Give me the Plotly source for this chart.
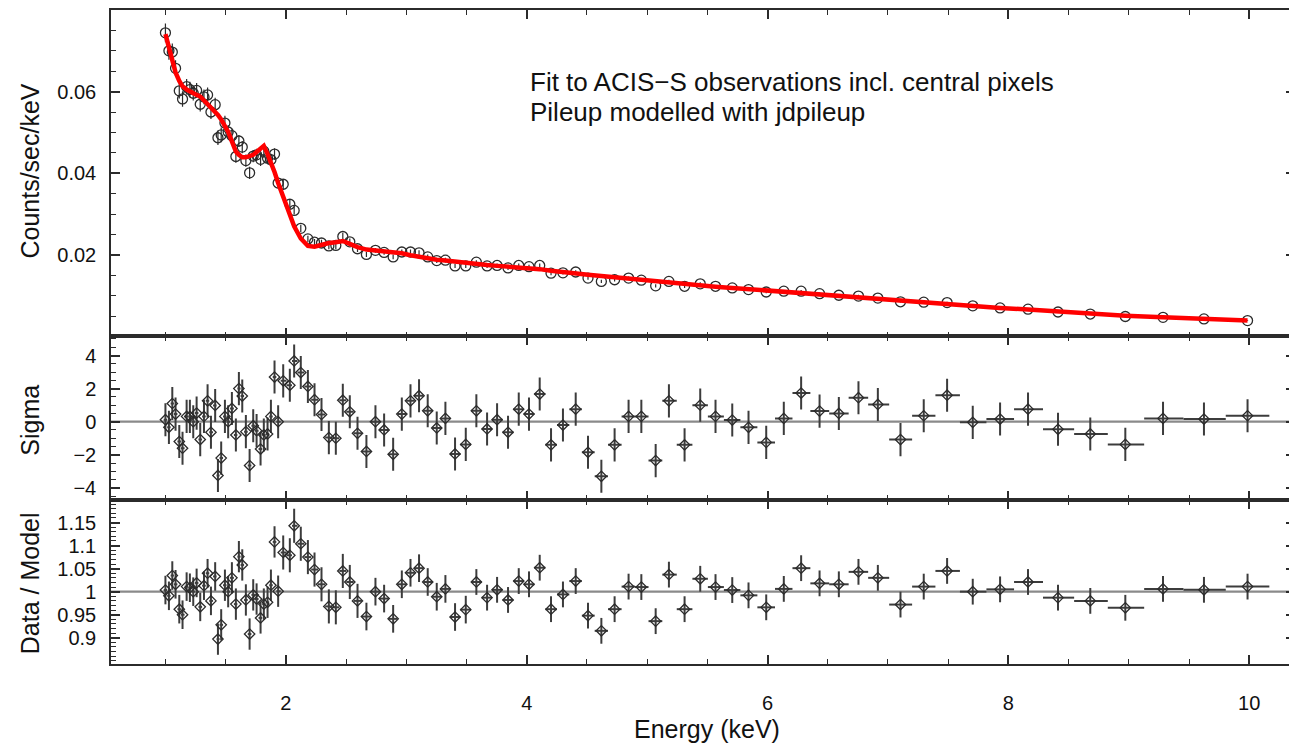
import plotly.graph_objects as go
from plotly.subplots import make_subplots

# ---------------- data ----------------
energy = [1.000, 1.029, 1.057, 1.084, 1.115, 1.142, 1.176, 1.203, 1.231, 1.259,
          1.289, 1.320, 1.350, 1.378, 1.413, 1.436, 1.463, 1.494, 1.521, 1.552,
          1.585, 1.610, 1.638, 1.668, 1.699, 1.729, 1.757, 1.790, 1.817, 1.848,
          1.876, 1.906, 1.936, 1.978, 2.033, 2.069, 2.124, 2.183, 2.238, 2.296,
          2.357, 2.415, 2.473, 2.531, 2.595, 2.669, 2.744, 2.816, 2.891, 2.963,
          3.035, 3.106, 3.178, 3.253, 3.325, 3.405, 3.494, 3.582, 3.671, 3.754,
          3.845, 3.934, 4.019, 4.108, 4.202, 4.301, 4.407, 4.509, 4.620, 4.730,
          4.846, 4.952, 5.071, 5.181, 5.311, 5.441, 5.568, 5.707, 5.842, 5.989,
          6.135, 6.279, 6.432, 6.592, 6.755, 6.916, 7.104, 7.297, 7.491, 7.704,
          7.931, 8.163, 8.412, 8.680, 8.971, 9.284, 9.624, 9.986]

counts = [0.0744, 0.0700, 0.0697, 0.0657, 0.0602, 0.0582, 0.0612, 0.0605, 0.0596, 0.0603,
          0.0569, 0.0587, 0.0592, 0.0550, 0.0568, 0.0487, 0.0494, 0.0523, 0.0501, 0.0492,
          0.0441, 0.0479, 0.0464, 0.0431, 0.0401, 0.0442, 0.0445, 0.0434, 0.0454, 0.0437,
          0.0433, 0.0447, 0.0376, 0.0373, 0.0324, 0.0309, 0.0265, 0.0239, 0.0231, 0.0229,
          0.0222, 0.0223, 0.0245, 0.0232, 0.0215, 0.0201, 0.0211, 0.0206, 0.0195, 0.0207,
          0.0207, 0.0205, 0.0195, 0.0186, 0.0187, 0.0173, 0.0173, 0.0182, 0.0173, 0.0174,
          0.0168, 0.0174, 0.0171, 0.0174, 0.0155, 0.0156, 0.0158, 0.0143, 0.0135, 0.0139,
          0.0143, 0.0138, 0.0124, 0.0135, 0.0123, 0.0129, 0.0123, 0.0119, 0.0115, 0.0109,
          0.0111, 0.0111, 0.0105, 0.0101, 0.0099, 0.0094, 0.0085, 0.0084, 0.0083, 0.0075,
          0.0070, 0.0067, 0.0060, 0.0055, 0.0049, 0.0047, 0.0043, 0.0039]

counts_err = [0.0023, 0.0022, 0.0021, 0.0020, 0.0019, 0.0019, 0.0019, 0.0019, 0.0018, 0.0018,
              0.0018, 0.0018, 0.0018, 0.0017, 0.0017, 0.0018, 0.0018, 0.0018, 0.0017, 0.0016,
              0.0015, 0.0015, 0.0015, 0.0015, 0.0015, 0.0015, 0.0015, 0.0016, 0.0016, 0.0015,
              0.0015, 0.0014, 0.0013, 0.0013, 0.0011, 0.0010, 0.0009, 0.0008, 0.0008, 0.0008,
              0.0008, 0.0009, 0.0009, 0.0008, 0.0008, 0.0006, 0.0006, 0.0006, 0.0006, 0.0006,
              0.0006, 0.0006, 0.0006, 0.0006, 0.0006, 0.0005, 0.0005, 0.0005, 0.0005, 0.0005,
              0.0005, 0.0005, 0.0005, 0.0005, 0.0005, 0.0004, 0.0004, 0.0004, 0.0004, 0.0004,
              0.0004, 0.0004, 0.0004, 0.0004, 0.0004, 0.0004, 0.0003, 0.0003, 0.0003, 0.0003,
              0.0003, 0.0003, 0.0003, 0.0003, 0.0003, 0.0003, 0.0002, 0.0002, 0.0002, 0.0002,
              0.0002, 0.0002, 0.0002, 0.0002, 0.0001, 0.0001, 0.0001, 0.0001]

model = [0.0741, 0.0706, 0.0673, 0.0647, 0.0626, 0.0613, 0.0605, 0.0600, 0.0596, 0.0592,
         0.0588, 0.0579, 0.0569, 0.0561, 0.0550, 0.0543, 0.0532, 0.0516, 0.0501, 0.0478,
         0.0453, 0.0445, 0.0439, 0.0439, 0.0442, 0.0445, 0.0452, 0.0460, 0.0467, 0.0447,
         0.0427, 0.0403, 0.0376, 0.0344, 0.0300, 0.0270, 0.0240, 0.0222, 0.0220, 0.0225,
         0.0229, 0.0231, 0.0234, 0.0227, 0.0219, 0.0213, 0.0211, 0.0209, 0.0207, 0.0204,
         0.0199, 0.0195, 0.0191, 0.0188, 0.0186, 0.0183, 0.0180, 0.0178, 0.0175, 0.0173,
         0.0171, 0.0170, 0.0168, 0.0165, 0.0161, 0.0157, 0.0154, 0.0151, 0.0148, 0.0145,
         0.0141, 0.0137, 0.0133, 0.0130, 0.0128, 0.0125, 0.0122, 0.0119, 0.0116, 0.0113,
         0.0110, 0.0106, 0.0103, 0.0099, 0.0095, 0.0091, 0.0087, 0.0083, 0.0079, 0.0075,
         0.0070, 0.0066, 0.0061, 0.0056, 0.0051, 0.0047, 0.0043, 0.0039]

sigma = [0.12, -0.34, 1.10, 0.46, -1.20, -1.60, 0.32, 0.32, 0.00, 0.52,
         -1.08, 0.32, 1.26, -0.64, 0.98, -3.25, -2.20, 0.32, 0.00, 0.80,
         -0.80, 2.00, 1.55, -0.60, -2.65, -0.24, -0.54, -1.65, -0.80, -0.74,
         0.32, 2.70, 0.00, 2.47, 2.20, 3.67, 2.97, 2.13, 1.33, 0.44,
         -0.96, -1.00, 1.30, 0.60, -0.70, -1.80, 0.00, -0.50, -1.97, 0.46,
         1.26, 1.57, 0.66, -0.38, 0.20, -1.95, -1.37, 0.66, -0.44, 0.12,
         -0.64, 0.76, 0.46, 1.67, -1.40, -0.20, 0.76, -1.85, -3.30, -1.40,
         0.32, 0.32, -2.35, 1.26, -1.40, 1.00, 0.32, 0.10, -0.34, -1.25,
         0.20, 1.73, 0.64, 0.50, 1.45, 1.04, -1.08, 0.36, 1.60, -0.04,
         0.16, 0.76, -0.46, -0.74, -1.37, 0.20, 0.16, 0.36]

ratio = [1.0035, 0.991, 1.035, 1.016, 0.962, 0.950, 1.011, 1.0085, 1.000, 1.019,
         0.967, 1.013, 1.040, 0.980, 1.033, 0.897, 0.928, 1.014, 1.000, 1.030,
         0.973, 1.076, 1.058, 0.982, 0.908, 0.993, 0.984, 0.943, 0.973, 0.977,
         1.014, 1.108, 1.001, 1.085, 1.079, 1.143, 1.104, 1.075, 1.048, 1.016,
         0.968, 0.966, 1.045, 1.021, 0.980, 0.946, 1.000, 0.985, 0.941, 1.016,
         1.041, 1.051, 1.021, 0.989, 1.006, 0.945, 0.961, 1.021, 0.987, 1.004,
         0.982, 1.023, 1.016, 1.052, 0.962, 0.994, 1.023, 0.948, 0.915, 0.962,
         1.011, 1.010, 0.936, 1.037, 0.962, 1.028, 1.010, 1.0035, 0.992, 0.966,
         1.006, 1.051, 1.018, 1.016, 1.043, 1.030, 0.972, 1.011, 1.045, 1.000,
         1.005, 1.021, 0.987, 0.980, 0.965, 1.006, 1.004, 1.011]

ratio_err = [0.031, 0.031, 0.031, 0.031, 0.031, 0.031, 0.031, 0.031, 0.031, 0.031,
             0.031, 0.031, 0.031, 0.031, 0.031, 0.034, 0.034, 0.034, 0.034, 0.034,
             0.034, 0.034, 0.034, 0.034, 0.034, 0.034, 0.034, 0.034, 0.034, 0.034,
             0.034, 0.034, 0.034, 0.037, 0.037, 0.037, 0.037, 0.037, 0.037, 0.037,
             0.037, 0.037, 0.037, 0.037, 0.037, 0.030, 0.030, 0.030, 0.030, 0.030,
             0.030, 0.030, 0.030, 0.030, 0.030, 0.030, 0.030, 0.028, 0.028, 0.028,
             0.028, 0.028, 0.028, 0.028, 0.028, 0.028, 0.028, 0.028, 0.028, 0.028,
             0.028, 0.028, 0.028, 0.028, 0.028, 0.028, 0.028, 0.028, 0.028, 0.028,
             0.028, 0.028, 0.028, 0.028, 0.028, 0.028, 0.028, 0.028, 0.028, 0.028,
             0.028, 0.028, 0.028, 0.028, 0.028, 0.028, 0.028, 0.028]

x_tickvals = [2, 4, 6, 8, 10]
x_ticktext = ["2", "4", "6", "8", "10"]
top_tickvals = [0.02, 0.04, 0.06]
top_ticktext = ["0.02", "0.04", "0.06"]
sig_tickvals = [-4, -2, 0, 2, 4]
sig_ticktext = ["\u22124", "\u22122", "0", "2", "4"]
rat_tickvals = [0.9, 0.95, 1.0, 1.05, 1.1, 1.15]
rat_ticktext = ["0.9", "0.95", "1", "1.05", "1.1", "1.15"]

# contiguous channels: bin edges lie half-way between neighbouring channel centres
n = len(energy)
x_lo, x_hi = [], []
for i in range(n):
    left = (energy[i] - energy[i - 1]) / 2 if i > 0 else (energy[1] - energy[0]) / 2
    right = (energy[i + 1] - energy[i]) / 2 if i < n - 1 else (energy[i] - energy[i - 1]) / 2
    x_lo.append(left)
    x_hi.append(right)

# ---------------- figure ----------------
FONT = "Liberation Sans, Arial, Helvetica, sans-serif"
INK = "#2b2b2b"
BAR = "#3c3c3c"

fig = make_subplots(rows=3, cols=1, shared_xaxes=True, vertical_spacing=0)

fig.add_trace(go.Scatter(
    x=energy, y=counts, mode="markers",
    marker=dict(symbol="circle-open", size=10, color=INK, line=dict(width=1.3, color=INK)),
    error_y=dict(type="data", array=counts_err, color=INK, thickness=1.2, width=0),
    showlegend=False, hoverinfo="skip"), row=1, col=1)

fig.add_trace(go.Scatter(
    x=energy, y=model, mode="lines",
    line=dict(color="#ff0000", width=4.5),
    showlegend=False, hoverinfo="skip"), row=1, col=1)

fig.add_trace(go.Scatter(
    x=energy, y=sigma, mode="markers",
    marker=dict(symbol="diamond-open", size=8, color=INK, line=dict(width=1.3, color=INK)),
    error_y=dict(type="constant", value=1.0, color=BAR, thickness=2, width=0),
    error_x=dict(type="data", array=x_hi, arrayminus=x_lo, color=BAR, thickness=2, width=0),
    showlegend=False, hoverinfo="skip"), row=2, col=1)

fig.add_trace(go.Scatter(
    x=energy, y=ratio, mode="markers",
    marker=dict(symbol="diamond-open", size=8, color=INK, line=dict(width=1.3, color=INK)),
    error_y=dict(type="data", array=ratio_err, color=BAR, thickness=2, width=0),
    error_x=dict(type="data", array=x_hi, arrayminus=x_lo, color=BAR, thickness=2, width=0),
    showlegend=False, hoverinfo="skip"), row=3, col=1)

fig.add_hline(y=0, row=2, col=1, line=dict(color="#8a8a8a", width=2.2), layer="below")
fig.add_hline(y=1, row=3, col=1, line=dict(color="#8a8a8a", width=2.2), layer="below")

axis_common = dict(
    showline=True, linecolor=INK, linewidth=1.5, mirror="ticks",
    ticks="inside", ticklen=9, tickwidth=1.5, tickcolor=INK,
    showgrid=False, zeroline=False,
    tickfont=dict(family=FONT, size=20, color="#111"),
)

for i in (1, 2, 3):
    fig.update_xaxes(
        row=i, col=1, range=[0.548, 10.38],
        tickmode="array", tickvals=x_tickvals, ticktext=x_ticktext,
        minor=dict(tickmode="linear", tick0=0, dtick=0.5, ticks="inside",
                   ticklen=5, tickwidth=1.3, tickcolor=INK, showgrid=False),
        showticklabels=(i == 3), ticklabelstandoff=20,
        **axis_common)

fig.update_yaxes(row=1, col=1, range=[0, 0.0800], domain=[0.5008, 1.0],
                 tickmode="array", tickvals=top_tickvals, ticktext=top_ticktext,
                 minor=dict(tickmode="linear", tick0=0, dtick=0.005, ticks="inside",
                            ticklen=5, tickwidth=1.3, tickcolor=INK, showgrid=False),
                 ticklabelstandoff=9, **axis_common)
fig.update_yaxes(row=2, col=1, range=[-4.73, 5.15], domain=[0.2508, 0.5008],
                 tickmode="array", tickvals=sig_tickvals, ticktext=sig_ticktext,
                 minor=dict(tickmode="linear", tick0=0, dtick=0.5, ticks="inside",
                            ticklen=5, tickwidth=1.3, tickcolor=INK, showgrid=False),
                 ticklabelstandoff=9, **axis_common)
fig.update_yaxes(row=3, col=1, range=[0.843, 1.199], domain=[0.0, 0.2508],
                 tickmode="array", tickvals=rat_tickvals, ticktext=rat_ticktext,
                 minor=dict(tickmode="linear", tick0=0, dtick=0.01, ticks="inside",
                            ticklen=5, tickwidth=1.3, tickcolor=INK, showgrid=False),
                 ticklabelstandoff=9, **axis_common)

title_font = dict(family=FONT, size=25, color="#111")
note_font = dict(family=FONT, size=26, color="#111")
annotations = [
    dict(text="Counts/sec/keV", xref="paper", yref="paper", x=0, y=0.753,
         xshift=-81, textangle=-90, showarrow=False, font=title_font,
         xanchor="center", yanchor="middle"),
    dict(text="Sigma", xref="paper", yref="paper", x=0, y=0.372,
         xshift=-81, textangle=-90, showarrow=False, font=title_font,
         xanchor="center", yanchor="middle"),
    dict(text="Data / Model", xref="paper", yref="paper", x=0, y=0.1235,
         xshift=-81, textangle=-90, showarrow=False, font=title_font,
         xanchor="center", yanchor="middle"),
    dict(text="Energy (keV)", xref="paper", yref="paper", x=0.503, y=0,
         yshift=-65, showarrow=False, font=title_font,
         xanchor="center", yanchor="middle"),
    dict(text="Fit to ACIS\u2212S observations incl. central pixels", xref="paper", yref="paper",
         x=0.352, y=0.8902, showarrow=False, font=note_font,
         xanchor="left", yanchor="middle"),
    dict(text="Pileup modelled with jdpileup", xref="paper", yref="paper",
         x=0.352, y=0.8445, showarrow=False, font=note_font,
         xanchor="left", yanchor="middle"),
]

# the page body adds an 8 px margin, so the figure is 8 px smaller on each side
fig.update_layout(
    width=1289, height=739,
    margin=dict(l=103, r=1, t=0, b=83),
    paper_bgcolor="white", plot_bgcolor="white",
    annotations=list(fig.layout.annotations) + annotations,
    font=dict(family=FONT, color="#111"),
)

fig.write_html("out.html")
